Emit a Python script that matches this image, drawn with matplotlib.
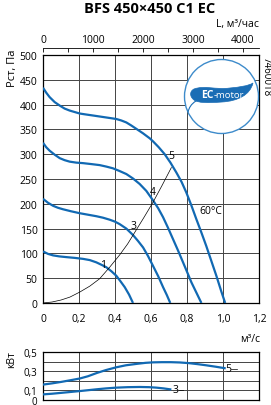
import numpy as np
import matplotlib.pyplot as plt
from matplotlib.patches import Circle, PathPatch
from matplotlib.path import Path

# pressure curves, m3/s vs Pa
q1 = [0, 0.028, 0.056, 0.09, 0.13, 0.175, 0.222, 0.26, 0.296, 0.325, 0.352, 0.38, 0.407, 0.43, 0.454, 0.478, 0.50]
p1 = [104, 99, 96, 94, 92.5, 91, 89, 86.5, 82, 77, 72, 64, 55, 44, 32, 17, 0]
q3 = [0, 0.028, 0.056, 0.083, 0.111, 0.155, 0.204, 0.25, 0.296, 0.333, 0.370, 0.40, 0.426, 0.463, 0.50,
      0.528, 0.556, 0.583, 0.611, 0.64, 0.667, 0.688, 0.707]
p3 = [210, 202, 196, 192, 189, 185, 181, 178, 175, 172, 168, 164, 159, 150, 137, 125, 112, 95, 75, 54, 32, 16, 0]
q4 = [0, 0.018, 0.037, 0.065, 0.093, 0.12, 0.148, 0.185, 0.222, 0.27, 0.315, 0.352, 0.389, 0.426, 0.463,
      0.50, 0.537, 0.574, 0.611, 0.64, 0.667, 0.694, 0.722, 0.75, 0.778, 0.80, 0.824, 0.852, 0.88]
p4 = [323, 314, 307, 299, 292, 288, 285, 283, 282, 280, 278, 275, 271.5, 266, 260,
      251, 240, 226, 207, 191, 173, 152, 129, 106, 82, 63, 42, 21, 0]
q5 = [0, 0.018, 0.037, 0.065, 0.093, 0.12, 0.148, 0.176, 0.204, 0.24, 0.278, 0.315, 0.352, 0.38, 0.407,
      0.435, 0.463, 0.49, 0.519, 0.556, 0.593, 0.611, 0.643, 0.676, 0.708, 0.741, 0.77, 0.796, 0.824,
      0.852, 0.88, 0.907, 0.935, 0.963, 0.99, 1.012]
p5 = [434, 424, 415, 405, 398, 392, 388, 385, 382, 380, 378, 376, 374, 372.5, 371,
      368, 364, 358, 351, 342, 332, 326, 314, 300, 283, 263, 244, 223, 197,
      169, 142, 115, 85, 55, 24, 0]
# system curve
qs = [0, 0.05, 0.1, 0.15, 0.204, 0.26, 0.315, 0.37, 0.426, 0.47, 0.509, 0.56, 0.611, 0.66, 0.713]
ps = [0, 2, 6, 12, 22, 34, 49, 72, 97, 119, 142, 172, 203, 236, 273]
# power curves, kW
qw5 = [0, 0.05, 0.1, 0.15, 0.204, 0.25, 0.3, 0.35, 0.407, 0.46, 0.52, 0.57, 0.611, 0.66, 0.71, 0.759,
       0.81, 0.86, 0.907, 0.96, 1.009]
w5 = [0.157, 0.17, 0.185, 0.202, 0.221, 0.245, 0.28, 0.31, 0.339, 0.36, 0.375, 0.386, 0.391, 0.393,
      0.393, 0.39, 0.383, 0.372, 0.36, 0.345, 0.33]
qw3 = [0, 0.05, 0.1, 0.15, 0.204, 0.25, 0.3, 0.35, 0.407, 0.47, 0.537, 0.59, 0.63, 0.67, 0.707]
w3 = [0.054, 0.061, 0.07, 0.079, 0.089, 0.098, 0.108, 0.117, 0.125, 0.13, 0.132, 0.13, 0.125, 0.117, 0.107]

xticks = [0, 0.2, 0.4, 0.6, 0.8, 1.0, 1.2]
xlabels = ['0', '0,2', '0,4', '0,6', '0,8', '1,0', '1,2']
lticks = [0, 1000, 2000, 3000, 4000]

blue = '#1169b3'
grid_c = '#444444'
W, H = 271, 406
plt.rcParams['font.family'] = ['Open Sans', 'DejaVu Sans']

fig = plt.figure(figsize=(W / 100, H / 100), dpi=100)

def box(l, t, r, b):
    return [l / W, 1 - b / H, (r - l) / W, (b - t) / H]

ax = fig.add_axes(box(43, 56, 259, 304))
ax.set_xlim(0, 1.2)
ax.set_ylim(0, 500)
ax.set_xticks(xticks)
ax.set_xticklabels(xlabels)
ax.set_yticks(range(0, 501, 50))
ax.tick_params(length=0, labelsize=7.5, pad=4)
ax.tick_params(axis='x', pad=7)
ax.grid(True, color=grid_c, lw=0.7)
for s in ax.spines.values():
    s.set_linewidth(0.9)

for q, p in [(q1, p1), (q3, p3), (q4, p4), (q5, p5)]:
    ax.plot(q, p, color=blue, lw=1.6, solid_capstyle='butt', solid_joinstyle='round', zorder=3)
ax.plot(qs, ps, color='black', lw=0.5, zorder=3)
for t, x, y in [('1', 0.333, 78), ('3', 0.504, 157), ('4', 0.611, 224), ('5', 0.713, 297)]:
    ax.text(x, y, t, fontsize=7.5, ha='center', va='center', zorder=4)
ax.text(0.93, 186, '60°C', fontsize=7.5, ha='center', va='center', zorder=4)

# top axis in m3/h
top = ax.twiny()
top.set_xlim(0, 1.2 * 3600)
top.set_xticks(lticks)
top.set_xticks(range(0, 4321, 500), minor=True)
top.spines['top'].set_position(('outward', 5))
for s in ['left', 'right', 'bottom']:
    top.spines[s].set_visible(False)
top.spines['top'].set_linewidth(0.6)
top.tick_params(axis='x', which='both', direction='in', length=3, width=0.6,
                labelsize=7.5, pad=2)

# power axes
axp = fig.add_axes(box(43, 353, 259, 401))
axp.set_xlim(0, 1.2)
axp.set_ylim(-0.005, 0.5)
axp.set_xticks(xticks)
axp.set_xticklabels([])
axp.set_yticks([0, 0.1, 0.3, 0.5])
axp.set_yticklabels(['0', '0,1', '0,3', '0,5'])
axp.set_yticks([0.2, 0.4], minor=True)
axp.tick_params(which='both', length=0, labelsize=7, pad=4)
axp.grid(True, which='both', color=grid_c, lw=0.7)
for s in axp.spines.values():
    s.set_linewidth(0.9)
axp.plot(qw5, w5, color=blue, lw=1.6, zorder=3)
axp.plot(qw3, w3, color=blue, lw=1.6, zorder=3)
axp.text(1.028, 0.325, '5', fontsize=7.5, ha='center', va='center')
axp.plot([1.045, 1.075], [0.325, 0.325], color='black', lw=0.5)
axp.text(0.737, 0.104, '3', fontsize=7.5, ha='center', va='center')
axp.plot([0.755, 0.78], [0.104, 0.104], color='black', lw=0.5)

# text outside axes
fig.text(150 / W, 1 - 9 / H, 'BFS 450×450 C1 EC', fontweight='bold',
         fontsize=10.5, ha='center', va='center')
fig.text(259 / W, 1 - 25 / H, 'L, м³/час', fontsize=7.5, ha='right', va='center')
fig.text(12 / W, 1 - 68 / H, 'Рст, Па', fontsize=8, rotation=90, ha='center', va='center')
fig.text(266 / W, 1 - 77 / H, '7460018', fontsize=7, rotation=270, ha='center', va='center')
fig.text(250 / W, 1 - 339 / H, 'м³/с', fontsize=7.5, ha='center', va='center')
fig.text(12 / W, 1 - 360 / H, 'кВт', fontsize=7.5, rotation=90, ha='center', va='center')

# EC-motor logo
ov = fig.add_axes([0, 0, 1, 1])
ov.set_xlim(0, W)
ov.set_ylim(H, 0)
ov.axis('off')
ov.add_patch(Circle((221.5, 97.5), 37, facecolor='white', edgecolor='#3d8bcb', lw=1.0))
C4 = Path.CURVE4
verts = [(253, 84),
         (250, 96), (238, 102), (222, 103),
         (208, 104), (198, 104), (194, 101),
         (189, 97), (190, 92), (194, 90),
         (205, 86), (215, 91), (230, 89),
         (240, 88), (248, 87), (253, 84),
         (253, 84)]
codes = [Path.MOVETO] + [C4] * 15 + [Path.CLOSEPOLY]
ov.add_patch(PathPatch(Path(verts, codes), facecolor='#1a6db5', edgecolor='#1a6db5', lw=0.5))
stem = Path([(196, 102), (191, 105), (189, 109), (188, 113)], [Path.MOVETO, C4, C4, C4])
ov.add_patch(PathPatch(stem, facecolor='none', edgecolor='#1a6db5', lw=0.8))
ov.text(213.5, 95.5, 'EC', color='white', fontsize=7.5, fontweight='bold', ha='right', va='center')
ov.text(213.5, 95.5, '-motor', color='white', fontsize=6.8, ha='left', va='center')

fig.savefig('out.png', dpi=100)
